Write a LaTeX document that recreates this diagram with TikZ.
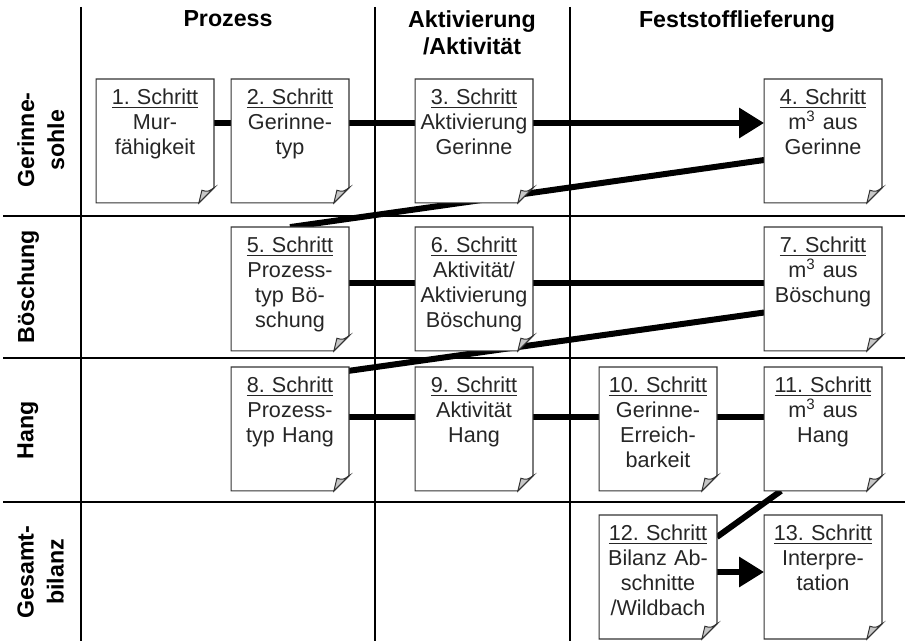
\documentclass[tikz,border=0pt]{standalone}
\usepackage{fontspec}
\setmainfont{Liberation Sans}
\usetikzlibrary{arrows.meta}
\pgfdeclarelayer{raster}
\pgfdeclarelayer{papier}
\pgfsetlayers{raster,papier,main}

\begin{document}
\begin{tikzpicture}
  [x=0.5pt,y=-0.5pt,
   blatt/.style={text width=58.5pt,align=center,inner sep=0pt,
     text height=12.5pt,text depth=49pt,text=black!85,
     font=\fontsize{10.8pt}{12.5pt}\selectfont\frenchspacing},
   kopf/.style={align=center,anchor=north,inner sep=0pt,
     font=\fontsize{11.6pt}{13.5pt}\selectfont\bfseries},
   zeile/.style={align=center,rotate=90,anchor=north,inner sep=0pt,
     font=\fontsize{11.6pt}{15pt}\selectfont\bfseries},
   fluss/.style={line width=3pt},
   pfeil/.style={line width=3pt,-{Triangle[length=12.5pt,width=14.5pt]}}]
  \useasboundingbox (0,0) rectangle (905,641);

  \node[kopf] (kprozess) at (228,10) {Prozess};
  \node[kopf] (kaktiv)   at (472,10) {Aktivierung\\/Aktivität};
  \node[kopf] (kfest)    at (737,10) {Feststofflieferung};

  \node[zeile] (zgerinne) at (17,140) {Gerinne-\\sohle};
  \node[zeile] (zboesch)  at (17,287) {Böschung};
  \node[zeile] (zhang)    at (17,430) {Hang};
  \node[zeile] (zbilanz)  at (17,572) {Gesamt-\\bilanz};

  \node[blatt] (s1)  at (155,141) {\underline{1. Schritt}\\Mur-\\fähigkeit};
  \node[blatt] (s2)  at (290,141) {\underline{2. Schritt}\\Gerinne-\\typ};
  \node[blatt] (s3)  at (474,141) {\underline{3. Schritt}\\Aktivierung\\Gerinne};
  \node[blatt] (s4)  at (823,141) {\underline{4. Schritt}\\m\textsuperscript{3} aus\\Gerinne};
  \node[blatt] (s5)  at (290,289) {\underline{5. Schritt}\\Prozess-\\typ Bö-\\schung};
  \node[blatt] (s6)  at (474,289) {\underline{6. Schritt}\\Aktivität/\\Aktivierung\\Böschung};
  \node[blatt] (s7)  at (823,289) {\underline{7. Schritt}\\m\textsuperscript{3} aus\\Böschung};
  \node[blatt] (s8)  at (290,429) {\underline{8. Schritt}\\Prozess-\\typ Hang};
  \node[blatt] (s9)  at (474,429) {\underline{9. Schritt}\\Aktivität\\Hang};
  \node[blatt] (s10) at (658,429) {\underline{10. Schritt}\\Gerinne-\\Erreich-\\barkeit};
  \node[blatt] (s11) at (823,429) {\underline{11. Schritt}\\m\textsuperscript{3} aus\\Hang};
  \node[blatt] (s12) at (658,577) {\underline{12. Schritt}\\Bilanz Ab-\\schnitte\\/Wildbach};
  \node[blatt] (s13) at (823,577) {\underline{13. Schritt}\\Interpre-\\tation};

  % raster and connectors below the sheets
  \begin{pgfonlayer}{raster}
    \foreach \x in {81,375,570}
      \draw[line width=1pt] (\x,7) -- (\x,641);
    \foreach \y in {216,358,502}
      \draw[line width=0.8pt] (3,\y) -- (905,\y);

    \foreach \von/\nach in {s1/s2,s2/s3}
      \draw[fluss] ([yshift=9pt]\von.east) -- ([yshift=9pt]\nach.west);
    \draw[pfeil] ([yshift=9pt]s3.east) -- ([yshift=9pt]s4.west);
    \foreach \von/\nach in {s5/s6,s6/s7}
      \draw[fluss] ([yshift=3pt]\von.east) -- ([yshift=3pt]\nach.west);
    \foreach \von/\nach in {s8/s9,s9/s10,s10/s11}
      \draw[fluss] ([yshift=6pt]\von.east) -- ([yshift=6pt]\nach.west);
    \draw[pfeil] ([yshift=2.5pt]s12.east) -- ([yshift=2.5pt]s13.west);

    \draw[fluss] ([yshift=-9.5pt]s4.west) -- (s5.north);
    \draw[fluss] ([yshift=-11.75pt]s7.west) -- ([yshift=-6pt]s8.north);
    \draw[fluss] ([xshift=-21pt]s11.south) -- ([yshift=20pt]s12.east);
  \end{pgfonlayer}

  % sheets with folded corner
  \begin{pgfonlayer}{papier}
    \foreach \i in {1,...,13} {
      \filldraw[fill=white,draw=black!80,line width=0.6pt]
        (s\i.north west) -- (s\i.north east) -- ([yshift=7.5pt]s\i.south east)
        -- ([xshift=-7.5pt]s\i.south east) -- (s\i.south west) -- cycle;
      \filldraw[fill=black!22,draw=black!80,line width=0.5pt]
        ([yshift=7.5pt]s\i.south east)
        .. controls ([xshift=-3pt,yshift=5.5pt]s\i.south east) .. ([xshift=-6pt,yshift=6.3pt]s\i.south east)
        -- ([xshift=-7.5pt]s\i.south east) -- cycle;
    }
  \end{pgfonlayer}
\end{tikzpicture}
\end{document}
